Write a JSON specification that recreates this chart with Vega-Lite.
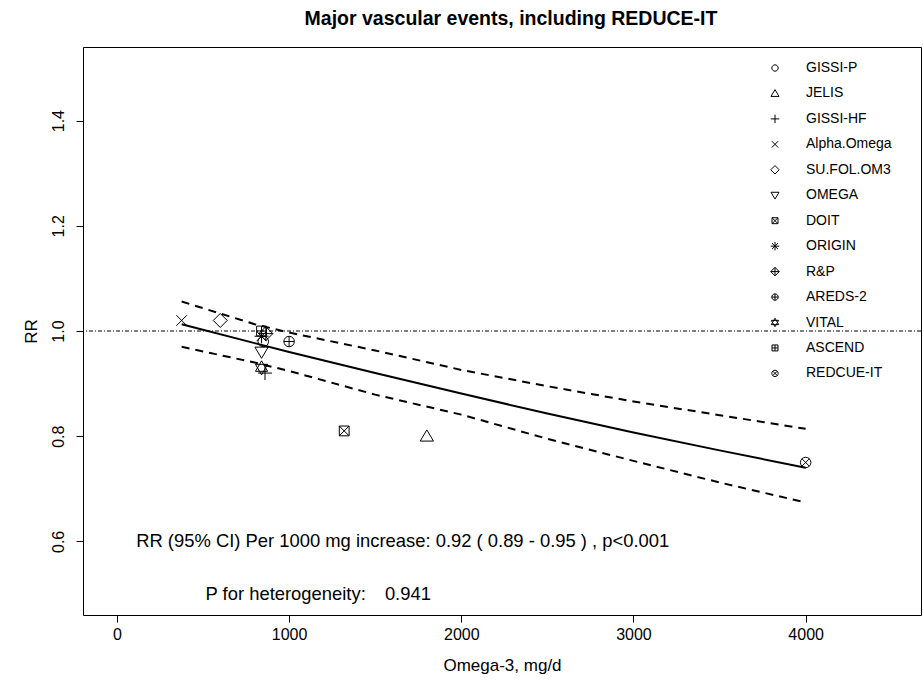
{
  "$schema": "https://vega.github.io/schema/vega-lite/v6.json",
  "width": 838,
  "height": 568,
  "autosize": {"type": "none"},
  "padding": {"left": 83, "top": 47, "right": 2, "bottom": 65},
  "background": "white",
  "title": {
    "text": "Major vascular events, including REDUCE-IT",
    "fontSize": 19.5,
    "fontWeight": "bold",
    "font": "Liberation Sans",
    "color": "black",
    "anchor": "middle",
    "dx": 9,
    "offset": 18
  },
  "config": {
    "font": "Liberation Sans",
    "view": {"stroke": "black", "strokeWidth": 1}
  },
  "datasets": {
    "curve": [
      {"dose": 376, "fit": 1.013, "lower": 0.970, "upper": 1.056},
      {"dose": 800, "fit": 0.977, "lower": 0.940, "upper": 1.013},
      {"dose": 1000, "fit": 0.960, "lower": 0.924, "upper": 0.997},
      {"dose": 1500, "fit": 0.920, "lower": 0.879, "upper": 0.963},
      {"dose": 2000, "fit": 0.881, "lower": 0.841, "upper": 0.926},
      {"dose": 2500, "fit": 0.843, "lower": 0.795, "upper": 0.895},
      {"dose": 3000, "fit": 0.807, "lower": 0.753, "upper": 0.866},
      {"dose": 3500, "fit": 0.773, "lower": 0.712, "upper": 0.840},
      {"dose": 4000, "fit": 0.740, "lower": 0.674, "upper": 0.814}
    ],
    "trials": [
      {"trial": "GISSI-P", "dose": 850, "rr": 0.98},
      {"trial": "JELIS", "dose": 1800, "rr": 0.80},
      {"trial": "GISSI-HF", "dose": 860, "rr": 0.92},
      {"trial": "Alpha.Omega", "dose": 376, "rr": 1.02},
      {"trial": "SU.FOL.OM3", "dose": 600, "rr": 1.02},
      {"trial": "OMEGA", "dose": 840, "rr": 0.96},
      {"trial": "DOIT", "dose": 1320, "rr": 0.81},
      {"trial": "ORIGIN", "dose": 840, "rr": 0.99},
      {"trial": "R&P", "dose": 865, "rr": 0.995},
      {"trial": "AREDS-2", "dose": 1000, "rr": 0.98},
      {"trial": "VITAL", "dose": 840, "rr": 0.93},
      {"trial": "ASCEND", "dose": 840, "rr": 1.00},
      {"trial": "REDCUE-IT", "dose": 4000, "rr": 0.75}
    ],
    "one": [{"n": 1}]
  },
  "encoding": {
    "x": {
      "type": "quantitative",
      "scale": {"domain": [-197, 4670], "nice": false, "zero": false},
      "axis": {
        "title": "Omega-3, mg/d",
        "values": [0, 1000, 2000, 3000, 4000],
        "format": "d",
        "domain": false,
        "grid": false,
        "tickColor": "black",
        "tickSize": 7,
        "labelFontSize": 16,
        "labelColor": "black",
        "labelPadding": 4,
        "labelFont": "Liberation Sans",
        "titleFont": "Liberation Sans",
        "titleFontSize": 17,
        "titleFontWeight": "normal",
        "titleColor": "black",
        "titleBaseline": "middle",
        "titleY": 50
      }
    },
    "y": {
      "type": "quantitative",
      "scale": {"domain": [0.46, 1.54], "nice": false, "zero": false},
      "axis": {
        "title": "RR",
        "values": [0.6, 0.8, 1.0, 1.2, 1.4],
        "format": ".1f",
        "domain": false,
        "grid": false,
        "tickColor": "black",
        "tickSize": 7,
        "labelAngle": -90,
        "labelAlign": "center",
        "labelBaseline": "bottom",
        "labelPadding": 10,
        "labelFontSize": 16,
        "labelColor": "black",
        "labelFont": "Liberation Sans",
        "titleFont": "Liberation Sans",
        "titleFontSize": 17,
        "titleFontWeight": "normal",
        "titleColor": "black",
        "titleAngle": -90,
        "titleAlign": "center",
        "titleBaseline": "middle",
        "titleX": -52,
        "titleY": 284
      }
    }
  },
  "layer": [
    {
      "data": {"name": "one"},
      "mark": {"type": "rule", "stroke": "black", "strokeWidth": 1, "strokeDash": [4, 2, 1, 2]},
      "encoding": {"y": {"datum": 1}, "x": null}
    },
    {
      "data": {"name": "curve"},
      "mark": {"type": "line", "stroke": "black", "strokeWidth": 2},
      "encoding": {"x": {"field": "dose"}, "y": {"field": "fit"}}
    },
    {
      "data": {"name": "curve"},
      "mark": {"type": "line", "stroke": "black", "strokeWidth": 2, "strokeDash": [8, 6]},
      "encoding": {"x": {"field": "dose"}, "y": {"field": "upper"}}
    },
    {
      "data": {"name": "curve"},
      "mark": {"type": "line", "stroke": "black", "strokeWidth": 2, "strokeDash": [8, 6]},
      "encoding": {"x": {"field": "dose"}, "y": {"field": "lower"}}
    },
    {
      "data": {"name": "trials"},
      "mark": {"type": "point", "filled": false, "stroke": "black", "strokeWidth": 1, "size": 196, "opacity": 1},
      "encoding": {
        "x": {"field": "dose"},
        "y": {"field": "rr"},
        "shape": {
          "field": "trial",
          "type": "nominal",
          "sort": null,
          "scale": {
            "domain": ["GISSI-P", "JELIS", "GISSI-HF", "Alpha.Omega", "SU.FOL.OM3", "OMEGA", "DOIT", "ORIGIN", "R&P", "AREDS-2", "VITAL", "ASCEND", "REDCUE-IT"],
            "range": [
              "M0.75,0A0.75,0.75,0,1,1,-0.75,0A0.75,0.75,0,1,1,0.75,0Z",
              "M0,-0.9L0.95,0.7L-0.95,0.7Z",
              "M-1,0L1,0M0,-1L0,1",
              "M-0.75,-0.75L0.75,0.75M-0.75,0.75L0.75,-0.75",
              "M0,-1L1,0L0,1L-1,0Z",
              "M0,0.9L0.95,-0.7L-0.95,-0.7Z",
              "M-0.7,-0.7L0.7,-0.7L0.7,0.7L-0.7,0.7Z M-0.7,-0.7L0.7,0.7M-0.7,0.7L0.7,-0.7",
              "M-1,0L1,0M0,-1L0,1M-0.7,-0.7L0.7,0.7M-0.7,0.7L0.7,-0.7",
              "M0,-1L1,0L0,1L-1,0Z M-1,0L1,0M0,-1L0,1",
              "M0.75,0A0.75,0.75,0,1,1,-0.75,0A0.75,0.75,0,1,1,0.75,0Z M-0.75,0L0.75,0M0,-0.75L0,0.75",
              "M0,-1L0.87,0.5L-0.87,0.5Z M0,1L0.87,-0.5L-0.87,-0.5Z",
              "M-0.7,-0.7L0.7,-0.7L0.7,0.7L-0.7,0.7Z M-0.7,0L0.7,0M0,-0.7L0,0.7",
              "M0.75,0A0.75,0.75,0,1,1,-0.75,0A0.75,0.75,0,1,1,0.75,0Z M-0.53,-0.53L0.53,0.53M-0.53,0.53L0.53,-0.53"
            ]
          },
          "legend": {
            "title": null,
            "orient": "none",
            "legendX": 685,
            "legendY": 14,
            "padding": 0,
            "rowPadding": 11.45,
            "labelFontSize": 14,
            "labelColor": "black",
            "labelFont": "Liberation Sans",
            "labelOffset": 24,
            "symbolSize": 72,
            "symbolStrokeColor": "black",
            "symbolStrokeWidth": 1,
            "symbolFillColor": "transparent",
            "symbolOpacity": 1,
            "encode": {
              "symbols": {"update": {"size": {"value": 72}, "stroke": {"value": "black"}, "fill": {"value": "transparent"}}}
            }
          }
        }
      }
    },
    {
      "data": {"name": "one"},
      "mark": {"type": "text", "text": "RR (95% CI) Per 1000 mg increase: 0.92 ( 0.89 - 0.95 ) , p<0.001", "fontSize": 18.4, "align": "center", "baseline": "middle", "color": "black"},
      "encoding": {"x": {"datum": 1660}, "y": {"datum": 0.6}}
    },
    {
      "data": {"name": "one"},
      "mark": {"type": "text", "text": "P for heterogeneity:", "fontSize": 18.4, "align": "center", "baseline": "middle", "color": "black"},
      "encoding": {"x": {"datum": 980}, "y": {"datum": 0.5}}
    },
    {
      "data": {"name": "one"},
      "mark": {"type": "text", "text": "0.941", "fontSize": 18.4, "align": "center", "baseline": "middle", "color": "black"},
      "encoding": {"x": {"datum": 1690}, "y": {"datum": 0.5}}
    }
  ]
}
